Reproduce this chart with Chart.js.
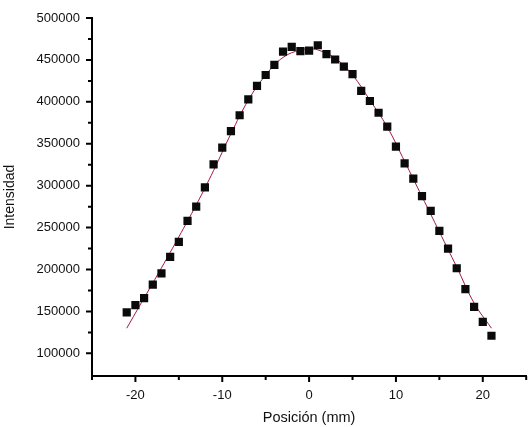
<!DOCTYPE html>
<html>
<head>
<meta charset="utf-8">
<script src="https://cdn.jsdelivr.net/npm/chart.js@4.4.1/dist/chart.umd.min.js"></script>
<style>
  html, body { margin: 0; padding: 0; background: #fff; }
  #wrap { width: 532px; height: 427px; }
</style>
</head>
<body>
<div id="wrap"><canvas id="c" width="532" height="427"></canvas></div>
<script>
// Posición (mm) de cada medida
const posicion = [-21, -20, -19, -18, -17, -16, -15, -14, -13, -12, -11,
  -10, -9, -8, -7, -6, -5, -4, -3, -2, -1, 0, 1, 2, 3, 4, 5, 6, 7, 8, 9,
  10, 11, 12, 13, 14, 15, 16, 17, 18, 19, 20, 21];
// Intensidad medida
const intensidad = [149000, 157500, 166000, 182000, 195500, 215000, 233000,
  258000, 275000, 298000, 325500, 345500, 365000, 384000, 403000, 419000,
  432000, 444000, 460000, 465500, 460500, 461000, 467500, 457000, 450500,
  442000, 433000, 413000, 401000, 387000, 370500, 346500, 326500, 308500,
  287500, 270000, 246000, 225000, 201500, 176500, 155500, 137500, 121000];
// Curva de ajuste
const ajusteX = [-21, -19, -17, -15, -13, -11, -9, -7, -5, -3, -1, 0, 1, 3,
  5, 7, 9, 11, 13, 15, 17, 19, 21];
const ajusteY = [130000, 166000, 202000, 239000, 277000, 318000, 362000,
  402000, 432000, 453000, 462000, 463000, 462000, 452000, 432000, 402000,
  370000, 329000, 287000, 245000, 203000, 160000, 130000];

// Ticks
const xMajor = [-20, -10, 0, 10, 20];
const xMinor = [-25, -15, -5, 5, 15, 25];
const yMajor = [100000, 150000, 200000, 250000, 300000, 350000, 400000, 450000, 500000];
const yMinor = [125000, 175000, 225000, 275000, 325000, 375000, 425000, 475000];

const FONT = 'Liberation Sans, Arial, Helvetica, sans-serif';

const tickMarks = {
  id: 'tickMarks',
  afterDraw(chart) {
    const ctx = chart.ctx;
    const xs = chart.scales.x, ys = chart.scales.y;
    const area = chart.chartArea;
    ctx.save();
    ctx.strokeStyle = '#000';
    ctx.lineWidth = 2;
    ctx.beginPath();
    xMajor.forEach(v => { const p = xs.getPixelForValue(v); ctx.moveTo(p, area.bottom); ctx.lineTo(p, area.bottom + 6); });
    xMinor.forEach(v => { const p = xs.getPixelForValue(v); ctx.moveTo(p, area.bottom); ctx.lineTo(p, area.bottom + 4); });
    yMajor.forEach(v => { const p = ys.getPixelForValue(v); ctx.moveTo(area.left, p); ctx.lineTo(area.left - 6, p); });
    yMinor.forEach(v => { const p = ys.getPixelForValue(v); ctx.moveTo(area.left, p); ctx.lineTo(area.left - 4, p); });
    ctx.stroke();
    ctx.restore();
  }
};

new Chart(document.getElementById('c'), {
  type: 'scatter',
  data: {
    datasets: [{
      label: 'Intensidad',
      data: posicion.map((x, i) => ({ x, y: intensidad[i] })),
      pointStyle: 'rect',
      pointRadius: 5.8,
      backgroundColor: '#0a0a0a',
      borderColor: '#0a0a0a',
      borderWidth: 0,
      showLine: false
    }, {
      label: 'Ajuste',
      data: ajusteX.map((x, i) => ({ x, y: ajusteY[i] })),
      showLine: true,
      borderColor: '#a3173f',
      borderWidth: 1,
      pointRadius: 0,
      tension: 0.4,
      fill: false
    }]
  },
  options: {
    responsive: false,
    animation: false,
    layout: { padding: { top: 18, right: 2, left: 0, bottom: 0 } },
    plugins: { legend: { display: false }, tooltip: { enabled: false } },
    scales: {
      x: {
        type: 'linear',
        min: -25, max: 25,
        afterBuildTicks: s => { s.ticks = xMajor.map(v => ({ value: v })); },
        afterFit: s => { s.height = 51; },
        grid: { display: false },
        border: { display: true, color: '#000', width: 2 },
        ticks: { color: '#111', padding: 4, font: { family: FONT, size: 13 }, callback: v => String(v) },
        title: { display: true, text: 'Posición (mm)', color: '#111', padding: { top: 0, bottom: 0 }, font: { family: FONT, size: 14.5 } }
      },
      y: {
        type: 'linear',
        min: 73000, max: 500000,
        afterBuildTicks: s => { s.ticks = yMajor.map(v => ({ value: v })); },
        afterFit: s => { s.width = 92; },
        grid: { display: false },
        border: { display: true, color: '#000', width: 2 },
        ticks: { color: '#111', padding: 4, font: { family: FONT, size: 13 }, callback: v => String(v) },
        title: { display: true, text: 'Intensidad', color: '#111', padding: { top: 2, bottom: 0 }, font: { family: FONT, size: 14 } }
      }
    }
  },
  plugins: [tickMarks]
});
</script>
</body>
</html>
